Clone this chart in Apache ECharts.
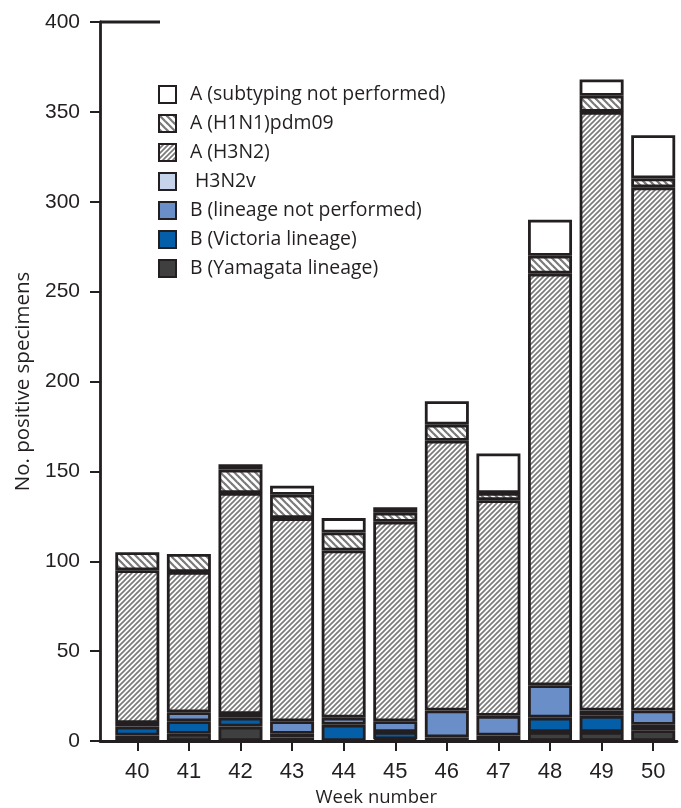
<!DOCTYPE html>
<html>
<head>
<meta charset="utf-8">
<script src="https://cdn.jsdelivr.net/npm/echarts@6/dist/echarts.min.js"></script>
<style>
  html, body { margin: 0; padding: 0; background: #fff; }
  #chart { width: 681px; height: 808px; }
</style>
</head>
<body>
<div id="chart"></div>
<script>
// Influenza-positive specimens by week, stacked by virus type/subtype
const weeks = ['40', '41', '42', '43', '44', '45', '46', '47', '48', '49', '50'];
const bYamagata     = [3, 4, 8, 2, 0, 1, 2, 3, 5, 5, 6];
const bVictoria     = [5, 7, 5, 2, 9, 4, 0, 0, 8, 9, 3];
const bNoLineage    = [2, 5, 2, 7, 4, 6, 15, 11, 18, 3, 8];
const h3n2v         = [0, 0, 0, 0, 0, 0, 0, 0, 0, 0, 0];
const aH3N2         = [85, 78, 123, 113, 93, 111, 150, 120, 229, 333, 291];
const aH1N1pdm09    = [10, 10, 13, 13, 10, 5, 9, 4, 10, 9, 5];
const aNotSubtyped  = [0, 0, 3, 5, 8, 3, 13, 22, 20, 9, 24];
const yTicks = { min: 0, max: 400, interval: 50 };

const EDGE = '#231f20';

// Diagonal hatch tile; dir 1 draws "/" stripes, -1 draws "\" stripes
function hatch(size, lineWidth, dir, color) {
  const c = document.createElement('canvas');
  c.width = size; c.height = size;
  const g = c.getContext('2d');
  g.fillStyle = '#fff';
  g.fillRect(0, 0, size, size);
  g.strokeStyle = color;
  g.lineWidth = lineWidth;
  g.lineCap = 'square';
  const segs = dir > 0
    ? [[-1, size + 1, size + 1, -1], [-1, 1, 1, -1], [size - 1, size + 1, size + 1, size - 1]]
    : [[-1, -1, size + 1, size + 1], [-1, size - 1, 1, size + 1], [size - 1, -1, size + 1, 1]];
  segs.forEach(s => { g.beginPath(); g.moveTo(s[0], s[1]); g.lineTo(s[2], s[3]); g.stroke(); });
  return { image: c, repeat: 'repeat' };
}

const fills = {
  notSubtyped: '#ffffff',
  h1n1: hatch(7, 2.2, -1, '#7a7a7a'),
  h3n2: hatch(5, 1.7, 1, '#7a7a7a'),
  h3n2v: '#c6d3ea',
  noLineage: '#6a8fc8',
  victoria: '#055ea8',
  yamagata: '#3f3f3f'
};

// Empty segments are skipped so they add no border lines to the stack
const skipZero = arr => arr.map(v => (v === 0 ? null : v));

function barSeries(name, data, fill) {
  return {
    name: name,
    type: 'bar',
    stack: 'flu',
    data: skipZero(data),
    barWidth: 44,
    itemStyle: { color: fill, borderColor: EDGE, borderWidth: 2.8 },
    emphasis: { disabled: true },
    animation: false
  };
}

const series = [
  barSeries('B (Yamagata lineage)', bYamagata, fills.yamagata),
  barSeries('B (Victoria lineage)', bVictoria, fills.victoria),
  barSeries('B (lineage not performed)', bNoLineage, fills.noLineage),
  barSeries(' H3N2v', h3n2v, fills.h3n2v),
  barSeries('A (H3N2)', aH3N2, fills.h3n2),
  barSeries('A (H1N1)pdm09', aH1N1pdm09, fills.h1n1),
  barSeries('A (subtyping not performed)', aNotSubtyped, fills.notSubtyped)
];

// Full-width baseline spanning from the y axis to the right end
series.push({
  type: 'line', xAxisIndex: 1, yAxisIndex: 1, data: [], silent: true
});

const chart = echarts.init(document.getElementById('chart'), null, { renderer: 'canvas' });
chart.setOption({
  backgroundColor: '#fff',
  animation: false,
  grid: [
    { left: 111.5, right: 2, top: 22, bottom: 67, containLabel: false, outerBoundsMode: 'none' },
    { left: 100, right: 4, top: 22, bottom: 67, containLabel: false, outerBoundsMode: 'none' }
  ],
  legend: {
    orient: 'vertical',
    left: 158,
    top: 85,
    padding: 0,
    itemWidth: 17,
    itemHeight: 17,
    itemGap: 10,
    selectedMode: false,
    icon: 'rect',
    data: ['A (subtyping not performed)', 'A (H1N1)pdm09', 'A (H3N2)', ' H3N2v',
           'B (lineage not performed)', 'B (Victoria lineage)', 'B (Yamagata lineage)'],
    textStyle: { fontFamily: 'Open Sans', fontSize: 19.4, lineHeight: 17, color: '#231f20', padding: [0, 0, 0, 9] }
  },
  xAxis: [
    {
      type: 'category',
      data: weeks,
      gridIndex: 0,
      axisLine: { show: false },
      axisTick: { show: true, alignWithLabel: true, length: 10, lineStyle: { color: EDGE, width: 2 } },
      axisLabel: { margin: 20, fontFamily: 'Liberation Sans', fontSize: 22, color: '#231f20' },
      name: 'Week number',
      nameLocation: 'middle',
      nameGap: 46,
      nameTextStyle: { fontFamily: 'Open Sans', fontSize: 18.5, color: '#231f20', padding: [0, 38, 0, 0] }
    },
    {
      type: 'value',
      gridIndex: 1,
      min: 0, max: 1,
      axisLine: { show: true, lineStyle: { color: EDGE, width: 2.8 } },
      axisTick: { show: false },
      axisLabel: { show: false },
      splitLine: { show: false }
    }
  ],
  yAxis: [
    {
      type: 'value',
      gridIndex: 0,
      min: yTicks.min, max: yTicks.max, interval: yTicks.interval,
      offset: 11.5,
      axisLine: { show: true, lineStyle: { color: EDGE, width: 2.8 } },
      axisTick: { show: true, length: 10, lineStyle: { color: EDGE, width: 2 } },
      axisLabel: { margin: 20, fontFamily: 'Liberation Sans', fontSize: 21, color: '#231f20' },
      splitLine: { show: false },
      name: 'No. positive specimens',
      nameLocation: 'middle',
      nameGap: 66,
      nameTextStyle: { fontFamily: 'Open Sans', fontSize: 20.5, color: '#231f20' }
    },
    {
      type: 'value',
      gridIndex: 1,
      min: 0, max: 1,
      show: false
    }
  ],
  series: series
});

// Short cap line at the top of the y axis
const yTop = chart.convertToPixel({ yAxisIndex: 0 }, yTicks.max);
chart.setOption({
  graphic: [{
    type: 'line',
    shape: { x1: 100, y1: yTop, x2: 160, y2: yTop },
    style: { stroke: EDGE, lineWidth: 2.8 },
    silent: true
  }]
});
</script>
</body>
</html>
